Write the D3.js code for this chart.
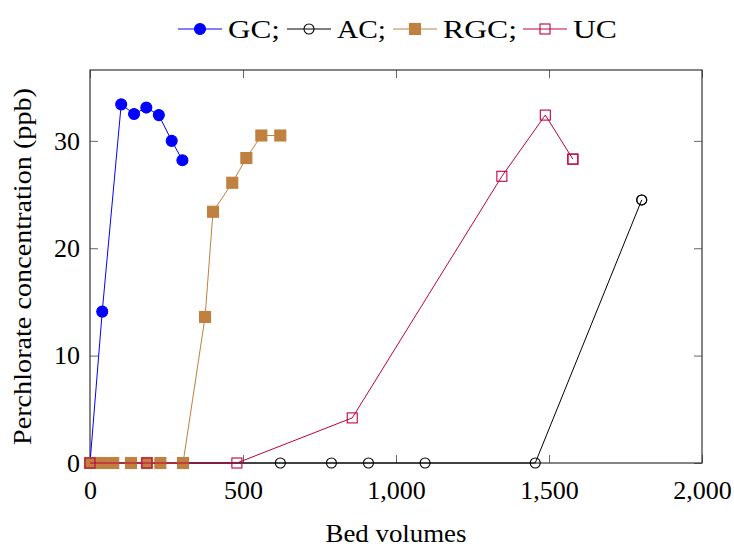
<!DOCTYPE html>
<html>
<head>
<meta charset="utf-8">
<script src="https://cdn.jsdelivr.net/npm/d3@7"></script>
<style>
  html, body { margin: 0; padding: 0; background: #fff; }
  svg { display: block; }
  text { font-family: "Liberation Serif", "DejaVu Serif", serif; fill: #000; }
</style>
</head>
<body>
<div id="chart"></div>
<script>
// Perchlorate breakthrough for four media, bed volumes vs concentration
const gcX  = [0, 40, 102, 144, 184, 225, 267, 302];
const gcY  = [0, 14.1, 33.4, 32.5, 33.1, 32.4, 30.0, 28.2];

const acX  = [0, 622, 789, 910, 1095, 1455, 1803, 1803];
const acY  = [0, 0, 0, 0, 0, 0, 24.5, 24.5];

const rgcX = [0, 38, 76, 134, 186, 230, 304, 376, 402, 465, 511, 560, 622];
const rgcY = [0, 0, 0, 0, 0, 0, 0, 13.6, 23.4, 26.1, 28.4, 30.5, 30.5];

const ucX  = [0, 186, 480, 857, 1346, 1488, 1578, 1578];
const ucY  = [0, 0, 0, 4.2, 26.7, 32.4, 28.3, 28.3];

const seriesNames = ["GC", "AC", "RGC", "UC"];
const xTicks = [0, 500, 1000, 1500, 2000];
const yTicks = [0, 10, 20, 30];
const xLabel = "Bed volumes";
const yLabel = "Perchlorate concentration (ppb)";

const W = 734, H = 548;
const margin = { top: 70, right: 32, bottom: 85, left: 90 };
const iw = W - margin.left - margin.right;
const ih = H - margin.top - margin.bottom;

const x = d3.scaleLinear().domain([0, 2000]).range([0, iw]);
const y = d3.scaleLinear().domain([0, 36.6]).range([ih, 0]);

const svg = d3.select("#chart").append("svg")
  .attr("width", W).attr("height", H);

const g = svg.append("g").attr("transform", `translate(${margin.left},${margin.top})`);

const fmt = d3.format(",");
const tickLen = 8;
const fontSize = 26;

// ticks on all four sides, pointing inward
const axisStyle = sel => {
  sel.select(".domain").remove();
  sel.selectAll(".tick line").attr("stroke", "#666").attr("stroke-width", 1);
};

g.append("g").attr("transform", `translate(0,${ih})`)
  .call(d3.axisBottom(x).tickValues(xTicks).tickFormat(fmt).tickSizeInner(-tickLen).tickSizeOuter(0).tickPadding(18))
  .call(axisStyle)
  .selectAll("text").attr("font-size", fontSize).style("font-family", "Liberation Serif");

g.append("g")
  .call(d3.axisTop(x).tickValues(xTicks).tickFormat("").tickSizeInner(-tickLen).tickSizeOuter(0))
  .call(axisStyle);

g.append("g")
  .call(d3.axisLeft(y).tickValues(yTicks).tickFormat(fmt).tickSizeInner(-tickLen).tickSizeOuter(0).tickPadding(10))
  .call(axisStyle)
  .selectAll("text").attr("font-size", fontSize).style("font-family", "Liberation Serif");

g.append("g").attr("transform", `translate(${iw},0)`)
  .call(d3.axisRight(y).tickValues(yTicks).tickFormat("").tickSizeInner(-tickLen).tickSizeOuter(0))
  .call(axisStyle);

// plot frame
g.append("rect")
  .attr("x", 0).attr("y", 0).attr("width", iw).attr("height", ih)
  .attr("fill", "none").attr("stroke", "#333").attr("stroke-width", 1.2);

const zip = (xs, ys) => xs.map((v, i) => [v, ys[i]]);

const series = [
  { name: seriesNames[0], pts: zip(gcX, gcY),  color: "#0000ff", mark: "circle", filled: true },
  { name: seriesNames[1], pts: zip(acX, acY),  color: "#000000", mark: "circle", filled: false },
  { name: seriesNames[2], pts: zip(rgcX, rgcY), color: "#bf8040", mark: "square", filled: true },
  { name: seriesNames[3], pts: zip(ucX, ucY),  color: "#bf0040", mark: "square", filled: false }
];

const line = d3.line().x(d => x(d[0])).y(d => y(d[1]));

function drawMarker(sel, s, cx, cy) {
  if (s.mark === "circle") {
    sel.append("circle")
      .attr("cx", cx).attr("cy", cy).attr("r", s.filled ? 5.5 : 5)
      .attr("fill", s.filled ? s.color : "none")
      .attr("stroke", s.color).attr("stroke-width", 1.1);
  } else {
    const half = s.filled ? 5.5 : 5;
    sel.append("rect")
      .attr("x", cx - half).attr("y", cy - half)
      .attr("width", half * 2).attr("height", half * 2)
      .attr("fill", s.filled ? s.color : "none")
      .attr("stroke", s.color).attr("stroke-width", 1.1);
  }
}

series.forEach(s => {
  const sg = g.append("g");
  sg.append("path").datum(s.pts)
    .attr("d", line).attr("fill", "none")
    .attr("stroke", s.color).attr("stroke-width", 1);
  s.pts.forEach(p => drawMarker(sg, s, x(p[0]), y(p[1])));
});

// legend across the top
const legendX = [178, 287, 393, 523];
const legendW = [52, 49, 74, 44];
const legendY = 29;
const leg = svg.append("g");
series.forEach((s, i) => {
  const lx = legendX[i];
  leg.append("line")
    .attr("x1", lx).attr("x2", lx + 44)
    .attr("y1", legendY).attr("y2", legendY)
    .attr("stroke", s.color).attr("stroke-width", 1);
  drawMarker(leg, s, lx + 22, legendY);
  leg.append("text")
    .attr("x", lx + 50).attr("y", legendY + 9)
    .attr("font-size", fontSize)
    .attr("textLength", legendW[i]).attr("lengthAdjust", "spacingAndGlyphs")
    .text(s.name + (i < series.length - 1 ? ";" : ""));
});

// axis titles
svg.append("text")
  .attr("x", margin.left + iw / 2).attr("y", 542)
  .attr("text-anchor", "middle").attr("font-size", fontSize)
  .attr("textLength", 141).attr("lengthAdjust", "spacingAndGlyphs")
  .text(xLabel);

svg.append("text")
  .attr("transform", `translate(31,${margin.top + ih / 2}) rotate(-90)`)
  .attr("text-anchor", "middle").attr("font-size", fontSize)
  .attr("textLength", 357).attr("lengthAdjust", "spacingAndGlyphs")
  .text(yLabel);
</script>
</body>
</html>
